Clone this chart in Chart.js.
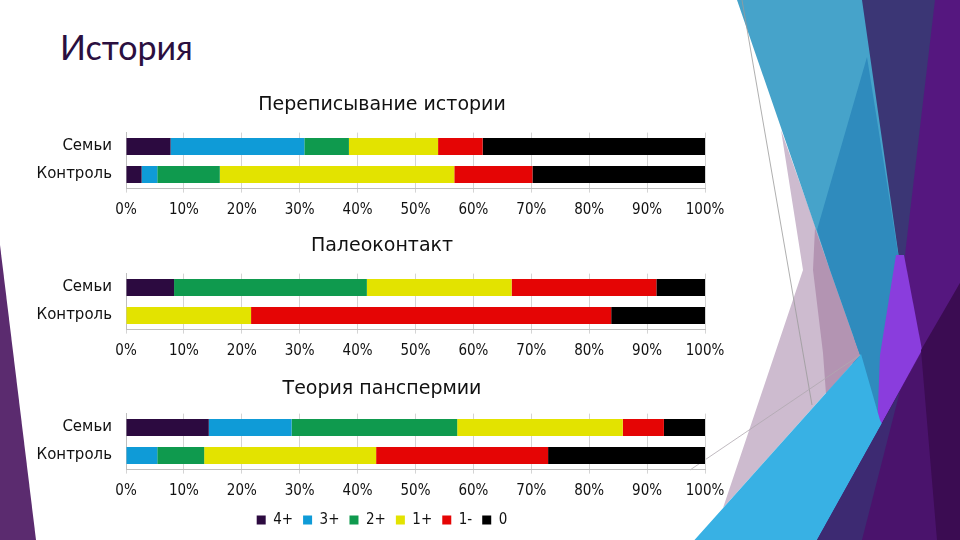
<!DOCTYPE html>
<html>
<head>
<meta charset="utf-8">
<script src="https://cdn.jsdelivr.net/npm/chart.js@4.4.1/dist/chart.umd.min.js"></script>
<style>
  html, body { margin: 0; padding: 0; background: #fff; }
  #slide { position: relative; width: 960px; height: 540px; overflow: hidden; background: #fff; }
  #deco { position: absolute; left: 0; top: 0; }
  #heading {
    position: absolute; left: 60px; top: 26px;
    font-family: Lato, "Open Sans", sans-serif; font-size: 34px; color: #2b0f40;
  }
  .panel { position: absolute; left: 0; width: 764px; }
</style>
</head>
<body>
<div id="slide">
  <svg id="deco" width="960" height="540">
    <polygon points="0,245 36,540 0,540" fill="#5b2b6f"/>
    <polygon points="878,0 960,0 960,540 840,540" fill="#55177f"/>
    <polygon points="861,0 935,0 903,272 896,280" fill="#3b3675"/>
    <polygon points="781,130 816,228 830,270 860,355 723,508 803,270" fill="#cdbbcf"/>
    <polygon points="815,228 830,270 860,355 826,394 823,353 813,270" fill="#b394b2"/>
    <polygon points="737,0 862,0 901,272 880,420 860,355 830,270" fill="#46a3ca"/>
    <polygon points="867,57 901,272 905,330 880,420 860,355 830,270 817,230" fill="#2f8bbd"/>
    <polygon points="896,255 904,255 922,350 877,432 880,355" fill="#8a3ddd"/>
    <polygon points="690,545 861,354 880,420 905,470 830,545" fill="#38b1e4"/>
    <polygon points="817,540 960,283 960,540" fill="#4a136c"/>
    <polygon points="817,540 900,391 862,540" fill="#3d2a72"/>
    <polygon points="921,350 960,283 960,540 937,540" fill="#3b0c52"/>
    <line x1="742" y1="0" x2="812" y2="405" stroke="#9a9a9a" stroke-width="0.8"/>
    <line x1="690" y1="470" x2="860" y2="355" stroke="#b0a8b0" stroke-width="0.8"/>
  </svg>
  <div id="heading">История</div>
  <div class="panel" style="top:93.6px;height:134.6px"><canvas id="rewriteChart"></canvas></div>
  <div class="panel" style="top:234.6px;height:134.6px"><canvas id="paleoChart"></canvas></div>
  <div class="panel" style="top:377.6px;height:159.6px"><canvas id="panspChart"></canvas></div>
</div>
<script>
const groups = ["Семьи", "Контроль"];
const series = ["4+", "3+", "2+", "1+", "1-", "0"];
const seriesColors = ["#2c0a40", "#0f9bd7", "#0f9a4e", "#e3e300", "#e50505", "#000000"];
const xTicks = [0, 10, 20, 30, 40, 50, 60, 70, 80, 90, 100];

// shares in %, order follows `series`
const rewriteFamilies = [7.7, 23.1, 7.7, 15.4, 7.7, 38.4];
const rewriteControl = [2.7, 2.7, 10.8, 40.5, 13.5, 29.8];
const paleoFamilies = [8.3, 0, 33.3, 25.0, 25.0, 8.4];
const paleoControl = [0, 0, 0, 21.6, 62.2, 16.2];
const panspFamilies = [14.3, 14.3, 28.6, 28.6, 7.1, 7.1];
const panspControl = [0, 5.4, 8.1, 29.7, 29.7, 27.1];

const narrowFont = "'DejaVu Sans Condensed', 'Liberation Sans Narrow', 'DejaVu Sans', sans-serif";
const plainFont = "'DejaVu Sans', sans-serif";
Chart.defaults.font.family = narrowFont;
Chart.defaults.color = "#111";

function drawPanel(canvasId, titleText, families, control, titleGap, withLegend) {
  const canvas = document.getElementById(canvasId);
  new Chart(canvas, {
    type: "bar",
    data: {
      labels: groups,
      datasets: series.map((name, i) => ({
        label: name,
        data: [families[i], control[i]],
        backgroundColor: seriesColors[i],
        borderWidth: 0,
        barPercentage: 0.76,
        categoryPercentage: 0.8,
      })),
    },
    options: {
      indexAxis: "y",
      responsive: true,
      maintainAspectRatio: false,
      animation: false,
      layout: { padding: 0 },
      plugins: {
        tooltip: { enabled: false },
        title: {
          display: true,
          text: titleText,
          font: { family: plainFont, size: 19, weight: "normal", lineHeight: 1.2 },
          color: "#111",
          padding: { top: 0, bottom: titleGap },
        },
        legend: {
          display: withLegend,
          position: "bottom",
          labels: {
            boxWidth: 9,
            boxHeight: 9,
            padding: 10,
            font: { size: 15 },
            color: "#111",
          },
        },
      },
      scales: {
        x: {
          stacked: true,
          min: 0,
          max: 100,
          afterBuildTicks: (s) => { s.ticks = xTicks.map((v) => ({ value: v })); },
          afterFit: (s) => { s.height = withLegend ? 33 : 40; },
          ticks: {
            callback: (v) => v + "%",
            font: { size: 15 },
            color: "#111",
            padding: 9,
            maxRotation: 0,
            autoSkip: false,
          },
          grid: { color: "#d4d4d4", tickLength: 4 },
          border: { color: "#bfbfbf" },
        },
        y: {
          stacked: true,
          afterFit: (s) => { s.width = 126; },
          ticks: { font: { family: plainFont, size: 15 }, color: "#111", padding: 14 },
          grid: { display: false, drawTicks: false },
          border: { display: true, color: "#bfbfbf" },
        },
        // empty spacer on the right so the titles centre like in the slide
        yRight: {
          type: "category",
          position: "right",
          afterFit: (s) => { s.width = 59; },
          ticks: { display: false },
          grid: { display: false, drawTicks: false },
          border: { display: false },
        },
      },
    },
  });
}

drawPanel("rewriteChart", "Переписывание истории", rewriteFamilies, rewriteControl, 15.8, false);
drawPanel("paleoChart", "Палеоконтакт", paleoFamilies, paleoControl, 15.8, false);
drawPanel("panspChart", "Теория панспермии", panspFamilies, panspControl, 12.8, true);
</script>
</body>
</html>
